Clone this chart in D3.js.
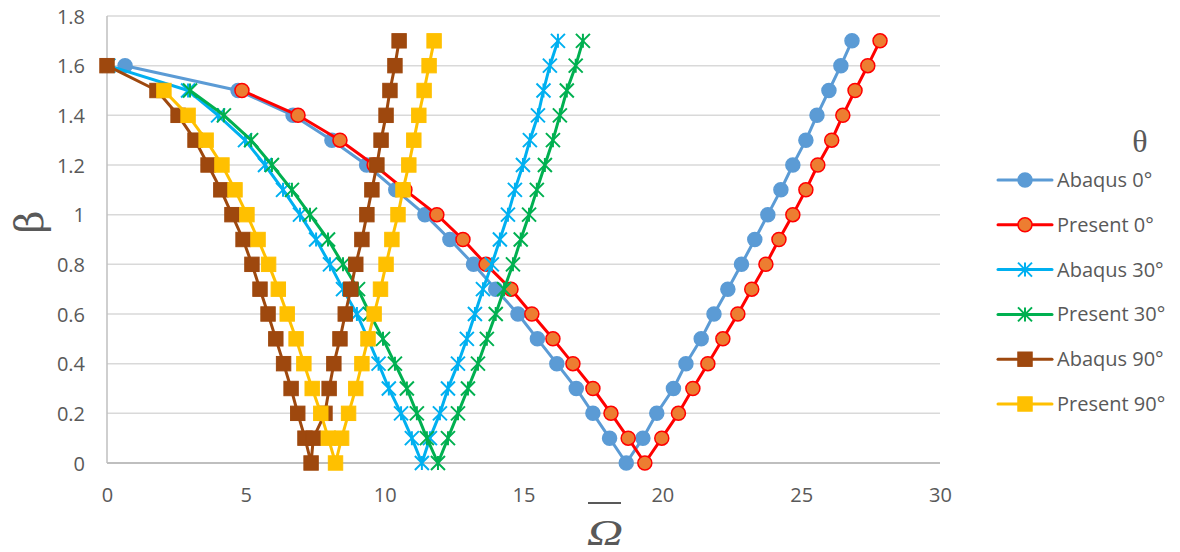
<!DOCTYPE html>
<html>
<head>
<meta charset="utf-8">
<script src="https://cdn.jsdelivr.net/npm/d3@7"></script>
<style>
  html, body { margin: 0; padding: 0; background: #fff; }
  svg { display: block; }
</style>
</head>
<body>
<svg id="chart" width="1180" height="552"></svg>
<script>
// Tick values
const xTicks = [0, 5, 10, 15, 20, 25, 30];
const yTicks = [0, 0.2, 0.4, 0.6, 0.8, 1, 1.2, 1.4, 1.6, 1.8];

// Series names
const seriesNames = ["Abaqus 0°", "Present 0°", "Abaqus 30°", "Present 30°", "Abaqus 90°", "Present 90°"];

// Frequency parameter (x) and beta (y) for each series
const abaqus0Omega = [0.65, 4.72, 6.7, 8.1, 9.35, 10.4, 11.45, 12.35, 13.2, 14.0, 14.8, 15.5, 16.2, 16.9, 17.5, 18.1, 18.7,
  19.3, 19.8, 20.4, 20.85, 21.4, 21.86, 22.36, 22.85, 23.33, 23.8, 24.27, 24.7, 25.17, 25.57, 26.0, 26.43, 26.83];
const abaqus0Beta = [1.6, 1.5, 1.4, 1.3, 1.2, 1.1, 1.0, 0.9, 0.8, 0.7, 0.6, 0.5, 0.4, 0.3, 0.2, 0.1, 0,
  0.1, 0.2, 0.3, 0.4, 0.5, 0.6, 0.7, 0.8, 0.9, 1.0, 1.1, 1.2, 1.3, 1.4, 1.5, 1.6, 1.7];

const present0Omega = [4.86, 6.88, 8.39, 9.62, 10.73, 11.88, 12.82, 13.65, 14.55, 15.3, 16.06, 16.78, 17.5, 18.15, 18.77, 19.37,
  19.98, 20.58, 21.1, 21.64, 22.18, 22.72, 23.22, 23.73, 24.2, 24.7, 25.17, 25.6, 26.1, 26.5, 26.94, 27.4, 27.84];
const present0Beta = [1.5, 1.4, 1.3, 1.2, 1.1, 1.0, 0.9, 0.8, 0.7, 0.6, 0.5, 0.4, 0.3, 0.2, 0.1, 0,
  0.1, 0.2, 0.3, 0.4, 0.5, 0.6, 0.7, 0.8, 0.9, 1.0, 1.1, 1.2, 1.3, 1.4, 1.5, 1.6, 1.7];

const abaqus30Omega = [0.05, 2.92, 4.0, 4.97, 5.69, 6.34, 6.95, 7.53, 8.03, 8.5, 9.0, 9.4, 9.78, 10.15, 10.59, 10.98, 11.34,
  11.63, 11.99, 12.28, 12.64, 12.96, 13.25, 13.54, 13.86, 14.15, 14.44, 14.69, 14.98, 15.23, 15.52, 15.72, 15.95, 16.24];
const abaqus30Beta = [1.6, 1.5, 1.4, 1.3, 1.2, 1.1, 1.0, 0.9, 0.8, 0.7, 0.6, 0.5, 0.4, 0.3, 0.2, 0.1, 0,
  0.1, 0.2, 0.3, 0.4, 0.5, 0.6, 0.7, 0.8, 0.9, 1.0, 1.1, 1.2, 1.3, 1.4, 1.5, 1.6, 1.7];

const present30Omega = [2.99, 4.21, 5.19, 5.94, 6.66, 7.31, 7.96, 8.5, 9.04, 9.47, 9.94, 10.37, 10.8, 11.16, 11.52, 11.92,
  12.28, 12.64, 13.0, 13.36, 13.68, 14.0, 14.3, 14.62, 14.9, 15.2, 15.48, 15.77, 16.06, 16.31, 16.56, 16.88, 17.14];
const present30Beta = [1.5, 1.4, 1.3, 1.2, 1.1, 1.0, 0.9, 0.8, 0.7, 0.6, 0.5, 0.4, 0.3, 0.2, 0.1, 0,
  0.1, 0.2, 0.3, 0.4, 0.5, 0.6, 0.7, 0.8, 0.9, 1.0, 1.1, 1.2, 1.3, 1.4, 1.5, 1.6, 1.7];

const abaqus90Omega = [0.0, 1.8, 2.56, 3.17, 3.64, 4.1, 4.5, 4.9, 5.22, 5.51, 5.8, 6.08, 6.36, 6.63, 6.87, 7.13, 7.35,
  7.43, 7.85, 8.0, 8.17, 8.39, 8.58, 8.78, 8.96, 9.18, 9.36, 9.54, 9.72, 9.87, 10.05, 10.19, 10.37, 10.52];
const abaqus90Beta = [1.6, 1.5, 1.4, 1.3, 1.2, 1.1, 1.0, 0.9, 0.8, 0.7, 0.6, 0.5, 0.4, 0.3, 0.2, 0.1, 0,
  0.1, 0.2, 0.3, 0.4, 0.5, 0.6, 0.7, 0.8, 0.9, 1.0, 1.1, 1.2, 1.3, 1.4, 1.5, 1.6, 1.7];

const present90Omega = [2.05, 2.92, 3.57, 4.14, 4.61, 5.04, 5.44, 5.82, 6.17, 6.49, 6.81, 7.09, 7.39, 7.7, 7.97, 8.23,
  8.45, 8.7, 8.96, 9.18, 9.4, 9.62, 9.85, 10.05, 10.26, 10.48, 10.66, 10.87, 11.05, 11.23, 11.42, 11.6, 11.78];
const present90Beta = [1.5, 1.4, 1.3, 1.2, 1.1, 1.0, 0.9, 0.8, 0.7, 0.6, 0.5, 0.4, 0.3, 0.2, 0.1, 0,
  0.1, 0.2, 0.3, 0.4, 0.5, 0.6, 0.7, 0.8, 0.9, 1.0, 1.1, 1.2, 1.3, 1.4, 1.5, 1.6, 1.7];

// Appearance of each series
const styles = [
  { line: "#5B9BD5", marker: "circle", fill: "#5B9BD5", stroke: "#5B9BD5" },
  { line: "#FF0000", marker: "circle", fill: "#ED7D31", stroke: "#FF0000" },
  { line: "#00B0F0", marker: "star",   fill: "none",    stroke: "#00B0F0" },
  { line: "#00B050", marker: "star",   fill: "none",    stroke: "#00B050" },
  { line: "#9E480E", marker: "square", fill: "#9E480E", stroke: "#9E480E" },
  { line: "#FFC000", marker: "square", fill: "#FFC000", stroke: "#FFC000" }
];

const seriesData = [
  [abaqus0Omega, abaqus0Beta],
  [present0Omega, present0Beta],
  [abaqus30Omega, abaqus30Beta],
  [present30Omega, present30Beta],
  [abaqus90Omega, abaqus90Beta],
  [present90Omega, present90Beta]
].map(([xs, ys], i) => ({
  name: seriesNames[i],
  style: styles[i],
  points: xs.map((x, k) => ({ x, y: ys[k] }))
}));

const svg = d3.select("#chart");
const FONT = "'Open Sans', 'Segoe UI', sans-serif";
const TEXT = "#595959";

const plot = { left: 107, right: 940, top: 16, bottom: 463 };
const x = d3.scaleLinear().domain([0, 30]).range([plot.left, plot.right]);
const y = d3.scaleLinear().domain([0, 1.8]).range([plot.bottom, plot.top]);

// Horizontal gridlines
svg.append("g")
  .selectAll("line")
  .data(yTicks.filter(d => d > 0))
  .join("line")
  .attr("x1", plot.left).attr("x2", plot.right)
  .attr("y1", d => y(d)).attr("y2", d => y(d))
  .attr("stroke", "#D9D9D9").attr("stroke-width", 1.5);

// Axis lines
svg.append("line")
  .attr("x1", plot.left).attr("x2", plot.left)
  .attr("y1", plot.top).attr("y2", plot.bottom)
  .attr("stroke", "#BFBFBF").attr("stroke-width", 1.5);
svg.append("line")
  .attr("x1", plot.left).attr("x2", plot.right)
  .attr("y1", plot.bottom).attr("y2", plot.bottom)
  .attr("stroke", "#BFBFBF").attr("stroke-width", 2);

// Axis tick labels via d3 axes
const xAxis = d3.axisBottom(x).tickValues(xTicks).tickSize(0).tickPadding(24).tickFormat(d3.format("d"));
const yAxis = d3.axisLeft(y).tickValues(yTicks).tickSize(0).tickPadding(22).tickFormat(d => d3.format("")(+d.toFixed(1)));

const gx = svg.append("g").attr("transform", `translate(0,${plot.bottom})`).call(xAxis);
const gy = svg.append("g").attr("transform", `translate(${plot.left},0)`).call(yAxis);
[gx, gy].forEach(g => {
  g.select(".domain").remove();
  g.selectAll("text")
    .attr("font-family", FONT)
    .attr("font-size", 20)
    .attr("fill", TEXT);
});
gx.selectAll("text").attr("dy", "0.35em").attr("y", 32);
gy.selectAll("text").attr("dy", "0.35em");

// Axis titles
svg.append("text")
  .attr("transform", "translate(29,222) rotate(-90)")
  .attr("text-anchor", "middle")
  .attr("dominant-baseline", "central")
  .attr("font-family", "'DejaVu Serif', 'Liberation Serif', serif")
  .attr("font-size", 40)
  .attr("fill", TEXT)
  .text("β");

svg.append("text")
  .attr("transform", "translate(605,545) scale(1.4,1)")
  .attr("text-anchor", "middle")
  .attr("font-family", "'Liberation Serif', 'DejaVu Serif', serif")
  .attr("font-style", "italic")
  .attr("font-size", 36)
  .attr("fill", TEXT)
  .text("Ω");
svg.append("line")
  .attr("x1", 588).attr("x2", 621)
  .attr("y1", 503).attr("y2", 503)
  .attr("stroke", TEXT).attr("stroke-width", 2);

// Marker drawing
function drawMarker(g, type, st, cx, cy) {
  if (type === "circle") {
    g.append("circle").attr("cx", cx).attr("cy", cy).attr("r", 7)
      .attr("fill", st.fill).attr("stroke", st.stroke).attr("stroke-width", 1.5);
  } else if (type === "square") {
    g.append("rect").attr("x", cx - 7.2).attr("y", cy - 7.2).attr("width", 14.4).attr("height", 14.4)
      .attr("fill", st.fill).attr("stroke", st.stroke).attr("stroke-width", 1);
  } else {
    const h = 7;
    g.append("path")
      .attr("d", `M${cx - h},${cy - h}L${cx + h},${cy + h}M${cx - h},${cy + h}L${cx + h},${cy - h}M${cx},${cy - h}L${cx},${cy + h}`)
      .attr("fill", "none").attr("stroke", st.stroke).attr("stroke-width", 2);
  }
}

const line = d3.line().x(d => x(d.x)).y(d => y(d.y));

const gSeries = svg.append("g");
seriesData.forEach(s => {
  const g = gSeries.append("g");
  g.append("path")
    .attr("d", line(s.points))
    .attr("fill", "none")
    .attr("stroke", s.style.line)
    .attr("stroke-width", 3)
    .attr("stroke-linejoin", "round")
    .attr("stroke-linecap", "round");
  s.points.forEach(p => drawMarker(g, s.style.marker, s.style, x(p.x), y(p.y)));
});

// Legend
const legend = svg.append("g");
legend.append("text")
  .attr("x", 1140).attr("y", 141)
  .attr("text-anchor", "middle")
  .attr("dominant-baseline", "central")
  .attr("font-family", "'Liberation Serif', 'DejaVu Serif', serif")
  .attr("font-size", 32)
  .attr("fill", TEXT)
  .text("θ");

seriesData.forEach((s, i) => {
  const ly = 180 + i * 44.8;
  legend.append("line")
    .attr("x1", 998).attr("x2", 1052)
    .attr("y1", ly).attr("y2", ly)
    .attr("stroke", s.style.line).attr("stroke-width", 3).attr("stroke-linecap", "round");
  drawMarker(legend, s.style.marker, s.style, 1025, ly);
  legend.append("text")
    .attr("x", 1057).attr("y", ly)
    .attr("dy", "0.35em")
    .attr("font-family", FONT)
    .attr("font-size", 20)
    .attr("fill", TEXT)
    .text(s.name);
});
</script>
</body>
</html>
